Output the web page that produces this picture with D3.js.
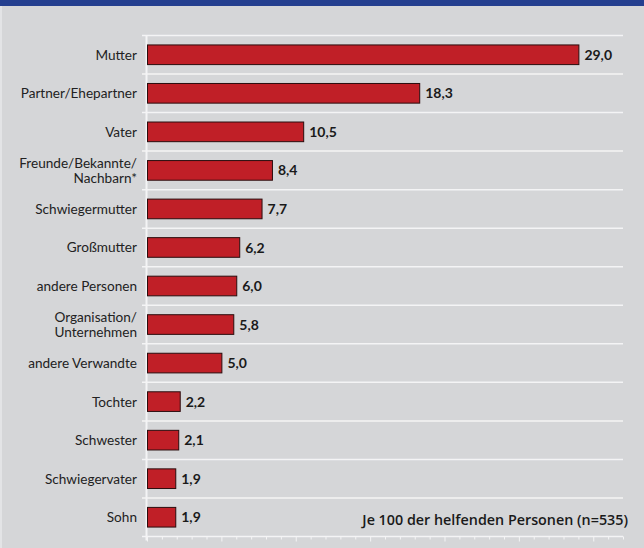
<!DOCTYPE html>
<html>
<head>
<meta charset="utf-8">
<script src="https://cdn.jsdelivr.net/npm/d3@7"></script>
<style>
  html, body { margin: 0; padding: 0; background: #d5d6d8; }
  svg { display: block; }
</style>
</head>
<body>
<svg id="chart" width="644" height="548"></svg>
<script>
const categories = [
  "Mutter",
  "Partner/Ehepartner",
  "Vater",
  "Freunde/Bekannte/\nNachbarn*",
  "Schwiegermutter",
  "Großmutter",
  "andere Personen",
  "Organisation/\nUnternehmen",
  "andere Verwandte",
  "Tochter",
  "Schwester",
  "Schwiegervater",
  "Sohn"
];
const values = [29.0, 18.3, 10.5, 8.4, 7.7, 6.2, 6.0, 5.8, 5.0, 2.2, 2.1, 1.9, 1.9];
const valueLabels = ["29,0", "18,3", "10,5", "8,4", "7,7", "6,2", "6,0", "5,8", "5,0", "2,2", "2,1", "1,9", "1,9"];
const xDomain = [0, 32];
const footnote = "Je 100 der helfenden Personen (n=535)";

const W = 644, H = 548;
const svg = d3.select("#chart");
const font = "Lato, 'Noto Sans', sans-serif";

// background & header band
svg.append("rect").attr("x", 0).attr("y", 0).attr("width", W).attr("height", H).attr("fill", "#d5d6d8");
svg.append("rect").attr("x", 0).attr("y", 0).attr("width", 2).attr("height", H).attr("fill", "#e3e4e6");
svg.append("rect").attr("x", 0).attr("y", 0).attr("width", W).attr("height", 6).attr("fill", "#243f8f");

const x = d3.scaleLinear().domain(xDomain).range([147, 623]);
const y = d3.scaleBand().domain(d3.range(categories.length)).range([35.5, 536.5]).paddingInner(0.49).paddingOuter(0.245);
const band = d3.scaleBand().domain(d3.range(categories.length)).range([35.5, 536.5]);

// horizontal gridlines at band boundaries
const bounds = d3.range(categories.length + 1).map(i => i === categories.length ? band.range()[1] : band(i));
svg.append("g").selectAll("line").data(bounds).join("line")
  .attr("x1", 142).attr("x2", x(xDomain[1]))
  .attr("y1", d => d).attr("y2", d => d)
  .attr("stroke", "#f4f4f5").attr("stroke-width", 1.5);

// bottom axis ticks (minor every 1, major every 5)
const bottomY = band.range()[1];
const minor = d3.range(xDomain[0], xDomain[1] + 1, 1);
const xAxis = d3.axisBottom(x).tickValues(minor).tickSize(3).tickFormat("");
const gx = svg.append("g").attr("transform", `translate(0,${bottomY})`).call(xAxis);
gx.select(".domain").remove();
gx.selectAll(".tick line").attr("stroke", "#f4f4f5").attr("stroke-width", 1)
  .attr("y2", d => d % 5 === 0 ? 5 : 3);

// vertical axis line
svg.append("line").attr("x1", x(0) - 0.5).attr("x2", x(0) - 0.5)
  .attr("y1", band.range()[0]).attr("y2", bottomY + 4)
  .attr("stroke", "#f4f4f5").attr("stroke-width", 2);

// bars
svg.append("g").selectAll("rect").data(values).join("rect")
  .attr("x", x(0) + 0.5)
  .attr("y", (d, i) => y(i))
  .attr("width", d => x(d) - x(0))
  .attr("height", y.bandwidth())
  .attr("fill", "#c01f27")
  .attr("stroke", "#2b0d0e")
  .attr("stroke-width", 1);

// value labels
svg.append("g").selectAll("text").data(values).join("text")
  .attr("x", d => x(d) + 6)
  .attr("y", (d, i) => y(i) + y.bandwidth() / 2)
  .attr("dy", "0.36em")
  .attr("font-family", font).attr("font-weight", "bold").attr("font-size", 14)
  .attr("fill", "#1a1a1a")
  .text((d, i) => valueLabels[i]);

// category labels
const lab = svg.append("g").selectAll("text").data(categories).join("text")
  .attr("x", 137)
  .attr("y", (d, i) => y(i) + y.bandwidth() / 2)
  .attr("text-anchor", "end")
  .attr("font-family", font).attr("font-size", 13.6)
  .attr("fill", "#222");
lab.each(function(d) {
  const lines = d.split("\n");
  const t = d3.select(this);
  lines.forEach((ln, k) => {
    t.append("tspan").attr("x", 137)
      .attr("dy", k === 0 ? `${0.36 - (lines.length - 1) * 0.56}em` : "1.12em")
      .text(ln);
  });
});

// footnote
const fn = svg.append("text").attr("x", 628).attr("y", 525)
  .attr("text-anchor", "end")
  .attr("font-family", "'Open Sans', Lato, sans-serif").attr("font-weight", 600).attr("font-size", 13)
  .attr("fill", "#1a1a1a")
  .text(footnote);
const fw = fn.node().getComputedTextLength();
if (fw > 0) fn.attr("font-size", Math.max(11, Math.min(15, 13 * 266 / fw)));
</script>
</body>
</html>
